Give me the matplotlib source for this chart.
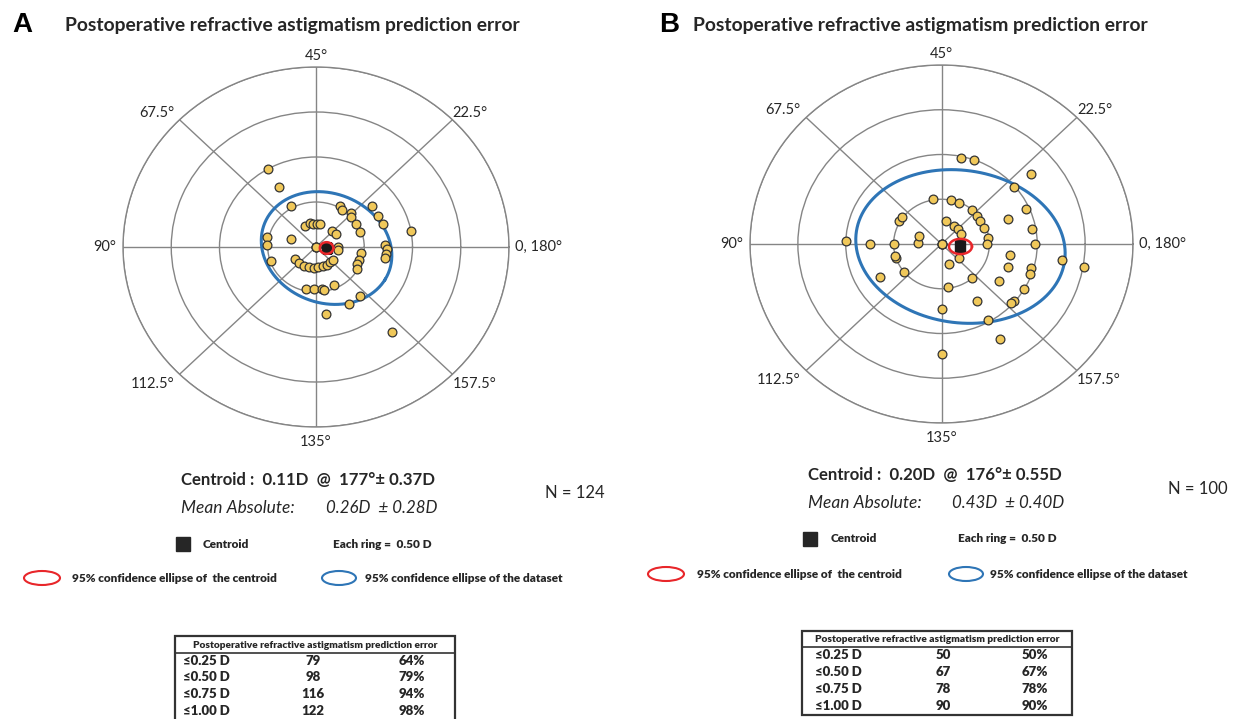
import numpy as np
import matplotlib.pyplot as plt
from matplotlib.patches import Ellipse, Rectangle

plt.rcParams['font.family'] = ['Lato', 'DejaVu Sans']

W, H = 1234, 719

# prediction error vectors, magnitude (D) and axis (deg)
a_mag = [1.00, 0.77, 0.52, 0.27, 0.52, 0.51, 0.49,
         0.26, 0.27, 0.26, 0.26, 0.26,
         0.24, 0.25, 0.23, 0.23,
         0.26, 0.25, 0.25, 0.23, 0.23, 0.22, 0.22, 0.23, 0.22, 0.23,
         0.48, 0.47, 0.47, 0.49, 0.46,
         0.72, 0.71, 0.75, 1.23,
         0.52, 0.49, 0.52, 0.49, 0.49, 0.49, 0.47, 0.47, 0.47, 0.49,
         0.74, 0.73, 0.74, 0.72, 0.74, 0.73, 0.73, 1.00,
         0.0, 0.0, 0.0]
a_axis = [60, 60, 60, 81, 84, 89, 99,
          58, 52, 48, 44, 40,
          23, 18, 0, 176,
          106, 113, 120, 126, 132, 138, 145, 150, 155, 161,
          129, 134, 139, 140, 147,
          149, 155, 139, 155,
          31, 28, 23, 21, 16, 10, 176, 171, 168, 165,
          19, 14, 10, 1, 179, 177, 175, 5,
          0, 0, 0]

b_mag = [0.98, 1.00, 1.22, 0.99, 0.51, 0.50, 0.50, 0.49, 0.49, 0.48, 0.48, 0.49, 0.48,
         0.75, 0.97, 0.96, 0.98, 1.27, 1.51, 0.73, 0.74, 0.97, 0.98, 0.73, 1.00, 0.99, 0.98,
         0.49, 0.74, 0.98, 1.22, 0.24, 0.24, 0.48, 0.73, 1.23,
         0.50, 0.50, 0.50, 0.74, 1.00, 0.75, 0.50, 0.25, 0.25, 0.51, 0.51,
         0.26, 0.24, 0.24, 0.23,
         0.0, 0.0, 0.0]
b_axis = [39, 35, 20, 20, 50, 39, 34, 25, 20, 16, 11, 4, 0,
          11, 12, 5, 0, 176, 175, 175, 170, 172, 170, 163, 165, 160, 159,
          155, 150, 150, 150, 159, 144, 139, 135, 135,
          109, 99, 98, 105, 89, 90, 90, 89, 80, 75, 72,
          40, 28, 22, 15,
          0, 0, 0]

# summary statistics per panel
centroid_mag = [0.11, 0.20]
centroid_axis = [177, 176]
centroid_sd = [0.37, 0.55]
mean_abs = [0.26, 0.43]
mean_abs_sd = [0.28, 0.40]
n_eyes = [124, 100]

# 95% ellipses: semi-axis a, semi-axis b (D), tilt (deg, double-angle plane)
data_ellipse = [(0.70, 0.60, -30), (1.10, 0.85, -10)]
centroid_ellipse = [(0.07, 0.065, 0), (0.12, 0.085, 0)]

thresholds = ['≤0.25 D', '≤0.50 D', '≤0.75 D', '≤1.00 D']
a_counts = [79, 98, 116, 122]
a_pct = [64, 79, 94, 98]
b_counts = [50, 67, 78, 90]
b_pct = [50, 67, 78, 90]

angle_labels = ['0, 180°', '22.5°', '45°', '67.5°', '90°', '112.5°', '135°', '157.5°']

GRID = '#858585'
DOT = '#f0c85a'
BLUE = '#2e75b6'
RED = '#e8262a'
TXT = '#262626'

fig = plt.figure(figsize=(W / 100, H / 100), dpi=100)


def fx(x):
    return x / W


def fy(y):
    return 1 - y / H


def ellipse_polar(mag, axis, a, b, tilt):
    # ellipse around the centroid in the double-angle plane -> (theta, r)
    t = np.linspace(0, 2 * np.pi, 400)
    phi = np.deg2rad(tilt)
    cx = mag * np.cos(np.deg2rad(2 * axis))
    cy = mag * np.sin(np.deg2rad(2 * axis))
    ex = cx + a * np.cos(t) * np.cos(phi) - b * np.sin(t) * np.sin(phi)
    ey = cy + a * np.cos(t) * np.sin(phi) + b * np.sin(t) * np.cos(phi)
    return np.unwrap(np.arctan2(ey, ex)), np.hypot(ex, ey)


def polar_panel(rect, mags, axes_deg, i):
    ax = fig.add_axes(rect, projection='polar')
    ax.set_aspect('auto')
    ax.set_ylim(0, 2.0)
    ax.set_rgrids([0.5, 1.0, 1.5, 2.0], labels=[])
    ax.set_thetagrids(np.arange(0, 360, 45), labels=[])
    ax.grid(True, color=GRID, lw=1.0)
    ax.spines['polar'].set_color(GRID)
    ax.spines['polar'].set_linewidth(1.0)
    ax.tick_params(length=0)

    th, r = ellipse_polar(centroid_mag[i], centroid_axis[i], *data_ellipse[i])
    ax.plot(th, r, color=BLUE, lw=2.2, zorder=3)

    theta = np.deg2rad(2 * np.array(axes_deg, dtype=float))
    ax.scatter(theta, mags, s=40, facecolor=DOT, edgecolor='#333333',
               linewidth=0.9, zorder=4, clip_on=False)

    ax.scatter([np.deg2rad(2 * centroid_axis[i])], [centroid_mag[i]], marker='s',
               s=55, color='#1a1a1a', zorder=5)
    th, r = ellipse_polar(centroid_mag[i], centroid_axis[i], *centroid_ellipse[i])
    ax.plot(th, r, color=RED, lw=1.8, zorder=6)

    place = [('left', 'center', (4, 0)), ('left', 'bottom', (0, 0)),
             ('center', 'bottom', (0, 3)), ('right', 'bottom', (-4, 0)),
             ('right', 'center', (-5, 0)), ('right', 'top', (-4, -2)),
             ('center', 'top', (0, -6)), ('left', 'top', (0, -2))]
    for k, lab in enumerate(angle_labels):
        ha, va, off = place[k]
        ax.annotate(lab, xy=(np.deg2rad(45 * k), 2.0), xytext=off,
                    textcoords='offset points', ha=ha, va=va,
                    fontsize=10.5, color=TXT, annotation_clip=False)
    return ax


def text_block(i, x0, y0, xmean, nx, ny, leg):
    fig.text(fx(x0), fy(y0), 'Centroid :  %.2fD  @  %d°± %.2fD'
             % (centroid_mag[i], centroid_axis[i], centroid_sd[i]),
             fontsize=12.1, fontweight='bold', color=TXT, va='center')
    fig.text(fx(x0), fy(y0 + 28), 'Mean Absolute:', fontsize=12.5,
             style='italic', color=TXT, va='center')
    fig.text(fx(xmean), fy(y0 + 28), '%.2fD  ± %.2fD' % (mean_abs[i], mean_abs_sd[i]),
             fontsize=12.2, style='italic', color=TXT, va='center')
    fig.text(fx(nx), fy(ny), 'N = %d' % n_eyes[i], fontsize=12, color=TXT, va='center')

    sq, cen, ring, red_e, red_t, blue_e, blue_t, ly1, ly2 = leg
    fig.add_artist(Rectangle((fx(sq), fy(ly1 + 7)), 14 / W, 14 / H,
                             transform=fig.transFigure, color='#262626'))
    fig.text(fx(cen), fy(ly1), 'Centroid', fontsize=8.5, fontweight='heavy',
             color=TXT, va='center')
    fig.text(fx(ring), fy(ly1), 'Each ring =  0.50 D', fontsize=8.5,
             fontweight='heavy', color=TXT, va='center')
    fig.add_artist(Ellipse((fx(red_e), fy(ly2)), 36 / W, 14 / H,
                           transform=fig.transFigure, fill=False, ec=RED, lw=1.5))
    fig.text(fx(red_t), fy(ly2), '95% confidence ellipse of  the centroid',
             fontsize=8.5, fontweight='heavy', color=TXT, va='center')
    fig.add_artist(Ellipse((fx(blue_e), fy(ly2)), 34 / W, 14 / H,
                           transform=fig.transFigure, fill=False, ec=BLUE, lw=1.5))
    fig.text(fx(blue_t), fy(ly2), '95% confidence ellipse of the dataset',
             fontsize=8.5, fontweight='heavy', color=TXT, va='center')


def table(x0, x1, top, bottom, rows_y, head_y, cols, counts, pct):
    fig.add_artist(Rectangle((fx(x0), fy(bottom)), (x1 - x0) / W, (bottom - top) / H,
                             transform=fig.transFigure, fill=False, ec='#333333',
                             lw=1.6, clip_on=False))
    line_y = head_y + 7
    fig.add_artist(plt.Line2D([fx(x0), fx(x1)], [fy(line_y), fy(line_y)],
                              transform=fig.transFigure, color='#333333', lw=1.2))
    fig.text(fx((x0 + x1) / 2), fy(head_y),
             'Postoperative refractive astigmatism prediction error',
             fontsize=7.3, fontweight='heavy', color=TXT, ha='center', va='center')
    for k in range(len(thresholds)):
        y = fy(rows_y[k])
        fig.text(fx(cols[0]), y, thresholds[k], fontsize=9.5, fontweight='heavy',
                 color=TXT, va='center')
        fig.text(fx(cols[1]), y, str(counts[k]), fontsize=9.5, fontweight='heavy',
                 color=TXT, va='center', ha='center')
        fig.text(fx(cols[2]), y, '%d%%' % pct[k], fontsize=9.5, fontweight='heavy',
                 color=TXT, va='center', ha='right')


# panel A
fig.text(fx(12), fy(25), 'A', fontsize=20, fontweight='bold',
         family='Liberation Sans', va='center')
fig.text(fx(65), fy(25), 'Postoperative refractive astigmatism prediction error',
         fontsize=13.9, fontweight='bold', color=TXT, va='center')
polar_panel([fx(123), fy(427), 386 / W, 360 / H], a_mag, a_axis, 0)
text_block(0, 181, 480, 326, 545, 493,
           (176, 203, 333, 42, 72, 339, 365, 544, 578))
table(175, 455, 636, 740, [661, 677, 694, 711], 646,
      (183, 313, 425), a_counts, a_pct)

# panel B
fig.text(fx(659), fy(25), 'B', fontsize=20, fontweight='bold',
         family='Liberation Sans', va='center')
fig.text(fx(693), fy(25), 'Postoperative refractive astigmatism prediction error',
         fontsize=13.9, fontweight='bold', color=TXT, va='center')
polar_panel([fx(750), fy(423), 383 / W, 358 / H], b_mag, b_axis, 1)
text_block(1, 808, 475, 952, 1168, 489,
           (803, 831, 958, 666, 697, 966, 990, 539, 574))
table(802, 1072, 631, 715, [655, 672, 689, 706], 640,
      (815, 943, 1048), b_counts, b_pct)

fig.savefig('out.png', dpi=100, facecolor='white')
